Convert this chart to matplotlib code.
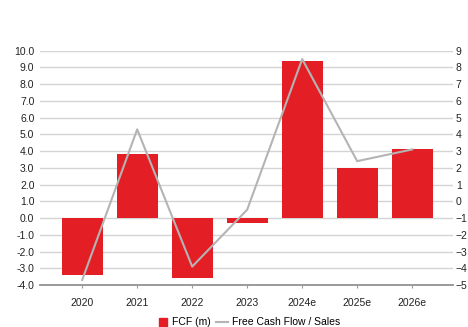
import matplotlib.pyplot as plt
from matplotlib.lines import Line2D
import numpy as np

plt.rcParams['font.family'] = ['Liberation Sans', 'DejaVu Sans']

years = ['2020', '2021', '2022', '2023', '2024e', '2025e', '2026e']
fcf = [-3.4, 3.8, -3.6, -0.3, 9.4, 3.0, 4.1]
fcf_sales = [-4.7, 4.3, -3.9, -0.5, 8.5, 2.4, 3.1]

red = '#e31e24'
grey = '#b4b4b4'

fig = plt.figure(figsize=(4.68, 3.27), dpi=100)
ax = fig.add_axes([40 / 468, 42 / 327, 413 / 468, 234.3 / 327])
ax2 = ax.twinx()

x = np.arange(len(years))
ax.bar(x, fcf, width=0.745, color=red, zorder=3)
ax2.plot(x, fcf_sales, color=grey, lw=1.5, zorder=4)

ax.set_xlim(-0.767, 6.742)
ax.set_ylim(-4, 10)
ax2.set_ylim(-5, 9)
ax.set_yticks(np.arange(-4, 11, 1))
ax.set_yticklabels([f'{v:.1f}' for v in np.arange(-4, 11, 1)])
ax2.set_yticks(np.arange(-5, 10, 1))
ax.set_xticks(x)
ax.set_xticklabels(years)

ax.grid(axis='y', color='#d4d4d4', lw=1, zorder=0)
ax.set_axisbelow(True)
for a in (ax, ax2):
    for s in ['top', 'left', 'right']:
        a.spines[s].set_visible(False)
    a.spines['bottom'].set_color('#9a9a9a')
    a.spines['bottom'].set_linewidth(1.2)

ax.tick_params(axis='y', length=0, pad=4, labelsize=7.5, labelcolor='#222222')
ax2.tick_params(axis='y', length=0, pad=2, labelsize=7.5, labelcolor='#222222')
ax.tick_params(axis='x', length=2, color='#9a9a9a', pad=7, labelsize=7.5, labelcolor='#222222')
ax2.set_zorder(ax.get_zorder() + 1)
ax2.patch.set_visible(False)

handles = [Line2D([], [], ls='none', marker='s', ms=6, color=red),
           Line2D([], [], color=grey, lw=1.5)]
fig.legend(handles, ['FCF (m)', 'Free Cash Flow / Sales'], loc='lower center',
           bbox_to_anchor=(0.53, -0.03), ncol=2, frameon=False, fontsize=7.5,
           handlelength=1.2, columnspacing=0.5, handletextpad=0.3)

fig.savefig('out.png', dpi=100)
